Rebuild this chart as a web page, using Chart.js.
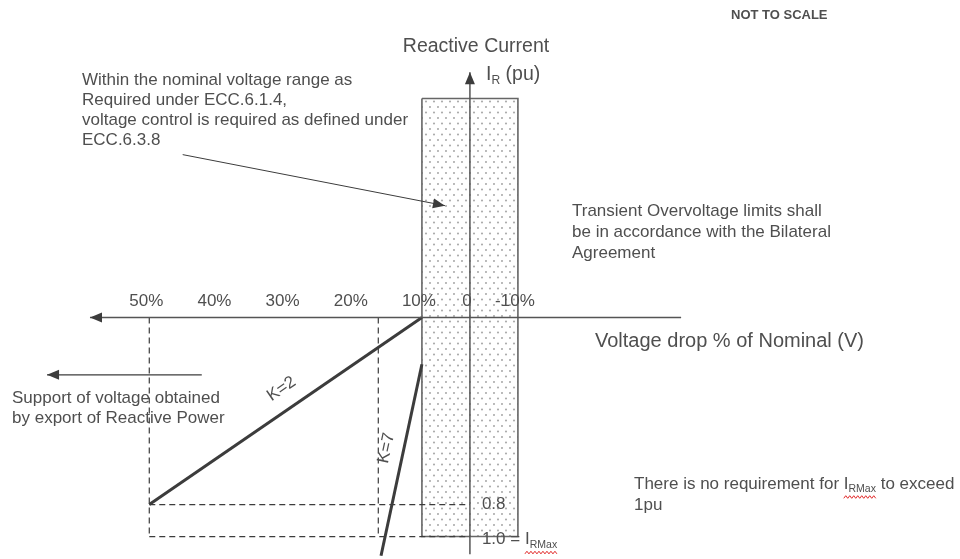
<!DOCTYPE html>
<html>
<head>
<meta charset="utf-8">
<script src="https://cdn.jsdelivr.net/npm/chart.js@4.4.1/dist/chart.umd.min.js"></script>
<style>
  body { margin: 0; background: #fff; }
  canvas { display: block; }
</style>
</head>
<body>
<canvas id="myChart" width="960" height="559"></canvas>
<script>
// x = voltage drop % of nominal, y = reactive current (pu, positive downwards)
const tickValues = [50, 40, 30, 20, 10, 0, -10];
const tickLabels = ['50%', '40%', '30%', '20%', '10%', '0', '-10%'];

const k2Drop = [50, 10];
const k2Current = [0.8, 0];
const k7Drop = [10, 16];
const k7Current = [0.2, 1.12];

// nominal voltage band
const bandDrop = [10, -10, -10, 10, 10];
const bandCurrent = [-1, -1, 1, 1, -1];

const levelCurrent = [0.8, 1.0];
const levelDrop = [50, 0];
const guideDrop = [50, 16.4];
const guideCurrent = [0, 1.0];

const axisDrop = [58.7, -44];
const axisCurrent = [1.11, -1.12];

const noteArrowDrop = [45.1, 5.2];
const noteArrowCurrent = [-0.744, -0.511];
const supportArrowDrop = [42.3, 65];
const supportArrowCurrent = [0.245, 0.245];

// not to scale: above 10% drop is drawn wider, 0.8..1.0 pu is squeezed
function warp(v){
    return v > 10 ? 10 + (v - 10) * 1.42 : v;
}
function warpY(v){
    if (v <= 0) return v;
    return v <= 0.8 ? v * 1.0675 : 0.854 + (v - 0.8) * 0.73;
}
function pts(xs, ys){
    return xs.map((x, i) => ({ x: warp(x), y: warpY(ys[i]) }));
}

const FONT = '"Liberation Sans", Arial, sans-serif';
const ink = '#4f4f4f';
const lineInk = '#3c3c3c';

// dotted fill
const tile = document.createElement('canvas');
tile.width = 8; tile.height = 11;
const tctx = tile.getContext('2d');
tctx.fillStyle = '#ffffff';
tctx.fillRect(0, 0, 8, 11);
tctx.fillStyle = '#aaaaaa';
tctx.beginPath(); tctx.arc(2, 2.5, 1.05, 0, Math.PI * 2); tctx.fill();
tctx.beginPath(); tctx.arc(6, 8, 1.05, 0, Math.PI * 2); tctx.fill();
const dots = tctx.createPattern(tile, 'repeat');

function line(data, extra){
    return Object.assign({
        data: data,
        showLine: true,
        borderColor: lineInk,
        borderWidth: 1.5,
        pointRadius: 0,
        pointHoverRadius: 0,
        fill: false,
        order: 0
    }, extra || {});
}

const dash = { borderDash: [6, 4], borderWidth: 1.2, order: 5 };

const datasets = [
    line(pts(bandDrop, bandCurrent), { borderColor: '#666', borderWidth: 1.6, backgroundColor: dots, fill: 'shape', order: 10 }),
    line(pts([0, 0], axisCurrent), { borderColor: '#555', arrow: true }),
    line(pts([axisDrop[1], axisDrop[0]], [0, 0]), { borderColor: '#555', arrow: true }),
    line(pts(k2Drop, k2Current), { borderWidth: 3 }),
    line(pts(k7Drop, k7Current), { borderWidth: 3 }),
    line(pts(levelDrop, [levelCurrent[0], levelCurrent[0]]), dash),
    line(pts(levelDrop, [levelCurrent[1], levelCurrent[1]]), dash),
    line(pts([guideDrop[0], guideDrop[0]], guideCurrent), dash),
    line(pts([guideDrop[1], guideDrop[1]], guideCurrent), dash),
    line(pts(noteArrowDrop, noteArrowCurrent), { borderWidth: 1, arrow: true }),
    line(pts(supportArrowDrop, supportArrowCurrent), { borderWidth: 1.4, arrow: true })
];

const arrowHeads = {
    id: 'arrowHeads',
    afterDatasetsDraw(chart){
        const { ctx } = chart;
        chart.data.datasets.forEach((ds, i) => {
            if (!ds.arrow) return;
            const p = chart.getDatasetMeta(i).data;
            const a = p[p.length - 2], b = p[p.length - 1];
            const ang = Math.atan2(b.y - a.y, b.x - a.x);
            const len = 12, half = 5;
            ctx.save();
            ctx.translate(b.x, b.y);
            ctx.rotate(ang);
            ctx.fillStyle = lineInk;
            ctx.beginPath();
            ctx.moveTo(0, 0);
            ctx.lineTo(-len, -half);
            ctx.lineTo(-len, half);
            ctx.closePath();
            ctx.fill();
            ctx.restore();
        });
    }
};

function rich(ctx, parts, x, y, size){
    let cx = x, wStart = null, wEnd = null;
    parts.forEach(p => {
        const fs = p.sub ? size * 0.62 : size;
        ctx.font = fs + 'px ' + FONT;
        ctx.fillText(p.t, cx, y + (p.sub ? size * 0.3 : 0));
        const w = ctx.measureText(p.t).width;
        if (p.wavy){
            if (wStart === null) wStart = cx;
            wEnd = cx + w;
        }
        cx += w;
    });
    if (wStart !== null){
        ctx.save();
        ctx.strokeStyle = '#e02828';
        ctx.lineWidth = 1;
        ctx.beginPath();
        const wy = y + 13;
        for (let xx = wStart, k = 0; xx <= wEnd; xx += 2, k++){
            const yy = wy + (k % 2 ? -1.3 : 1.3);
            if (k === 0) ctx.moveTo(xx, yy); else ctx.lineTo(xx, yy);
        }
        ctx.stroke();
        ctx.restore();
    }
}

const labels = {
    id: 'labels',
    afterDraw(chart){
        const { ctx, scales: { x, y } } = chart;
        const px = (d, c) => ({ x: x.getPixelForValue(warp(d)), y: y.getPixelForValue(warpY(c)) });
        ctx.save();
        ctx.fillStyle = ink;
        ctx.textBaseline = 'middle';
        ctx.textAlign = 'left';

        ctx.font = 'bold 13px ' + FONT;
        ctx.fillText('NOT TO SCALE', 731, 15);

        ctx.font = '19.5px ' + FONT;
        ctx.textAlign = 'center';
        ctx.fillText('Reactive Current', 476, 47);
        ctx.textAlign = 'left';
        rich(ctx, [{ t: 'I' }, { t: 'R', sub: true }, { t: ' (pu)' }], 486, 75, 19.5);

        ctx.font = '17px ' + FONT;
        ['Within the nominal voltage range as', 'Required under ECC.6.1.4,',
         'voltage control is required as defined under', 'ECC.6.3.8'].forEach((s, i) => ctx.fillText(s, 82, 80 + i * 20.2));
        ['Transient Overvoltage limits shall', 'be in accordance with the Bilateral',
         'Agreement'].forEach((s, i) => ctx.fillText(s, 572, 211 + i * 21.3));
        ['Support of voltage obtained', 'by export of Reactive Power'].forEach((s, i) => ctx.fillText(s, 12, 398 + i * 20));

        // tick labels
        ctx.textAlign = 'center';
        tickValues.forEach((v, i) => ctx.fillText(tickLabels[i], x.getPixelForValue(warp(v)) - 3, 301));

        ctx.textAlign = 'left';
        ctx.font = '20px ' + FONT;
        ctx.fillText('Voltage drop % of Nominal (V)', 595, 341);

        // level labels
        const ax = px(0, 0).x + 12;
        ctx.font = '17px ' + FONT;
        ctx.fillText('0.8', ax, px(0, levelCurrent[0]).y);
        rich(ctx, [{ t: '1.0 = ' }, { t: 'I', wavy: true }, { t: 'RMax', sub: true, wavy: true }], ax, px(0, levelCurrent[1]).y + 3, 17);

        rich(ctx, [{ t: 'There is no requirement for ' }, { t: 'I', wavy: true }, { t: 'RMax', sub: true, wavy: true }, { t: ' to exceed' }], 634, 484, 17);
        ctx.font = '17px ' + FONT;
        ctx.fillText('1pu', 634, 505);

        // K labels along the lines
        ctx.textAlign = 'center';
        const k2a = px(k2Drop[0], k2Current[0]), k2b = px(k2Drop[1], k2Current[1]);
        ctx.save();
        ctx.translate((k2a.x + k2b.x) / 2 - 4, (k2a.y + k2b.y) / 2 - 22);
        ctx.rotate(Math.atan2(k2b.y - k2a.y, k2b.x - k2a.x));
        ctx.fillText('K=2', 0, 0);
        ctx.restore();

        const k7a = px(k7Drop[0], k7Current[0]), k7b = px(k7Drop[1], k7Current[1]);
        ctx.save();
        ctx.translate((k7a.x + k7b.x) / 2 - 15, (k7a.y + k7b.y) / 2 - 12);
        ctx.rotate(Math.atan2(k7a.y - k7b.y, k7a.x - k7b.x));
        ctx.fillText('K=7', 0, 0);
        ctx.restore();

        ctx.restore();
    }
};

new Chart(document.getElementById('myChart'), {
    type: 'scatter',
    data: { datasets: datasets },
    options: {
        responsive: false,
        animation: false,
        layout: { padding: 0 },
        plugins: { legend: { display: false }, tooltip: { enabled: false } },
        scales: {
            x: { type: 'linear', display: false, reverse: true, min: -102.1, max: 97.9 },
            y: { type: 'linear', display: false, reverse: true, min: -1.45, max: 1.1025 }
        }
    },
    plugins: [arrowHeads, labels]
});
</script>
</body>
</html>
